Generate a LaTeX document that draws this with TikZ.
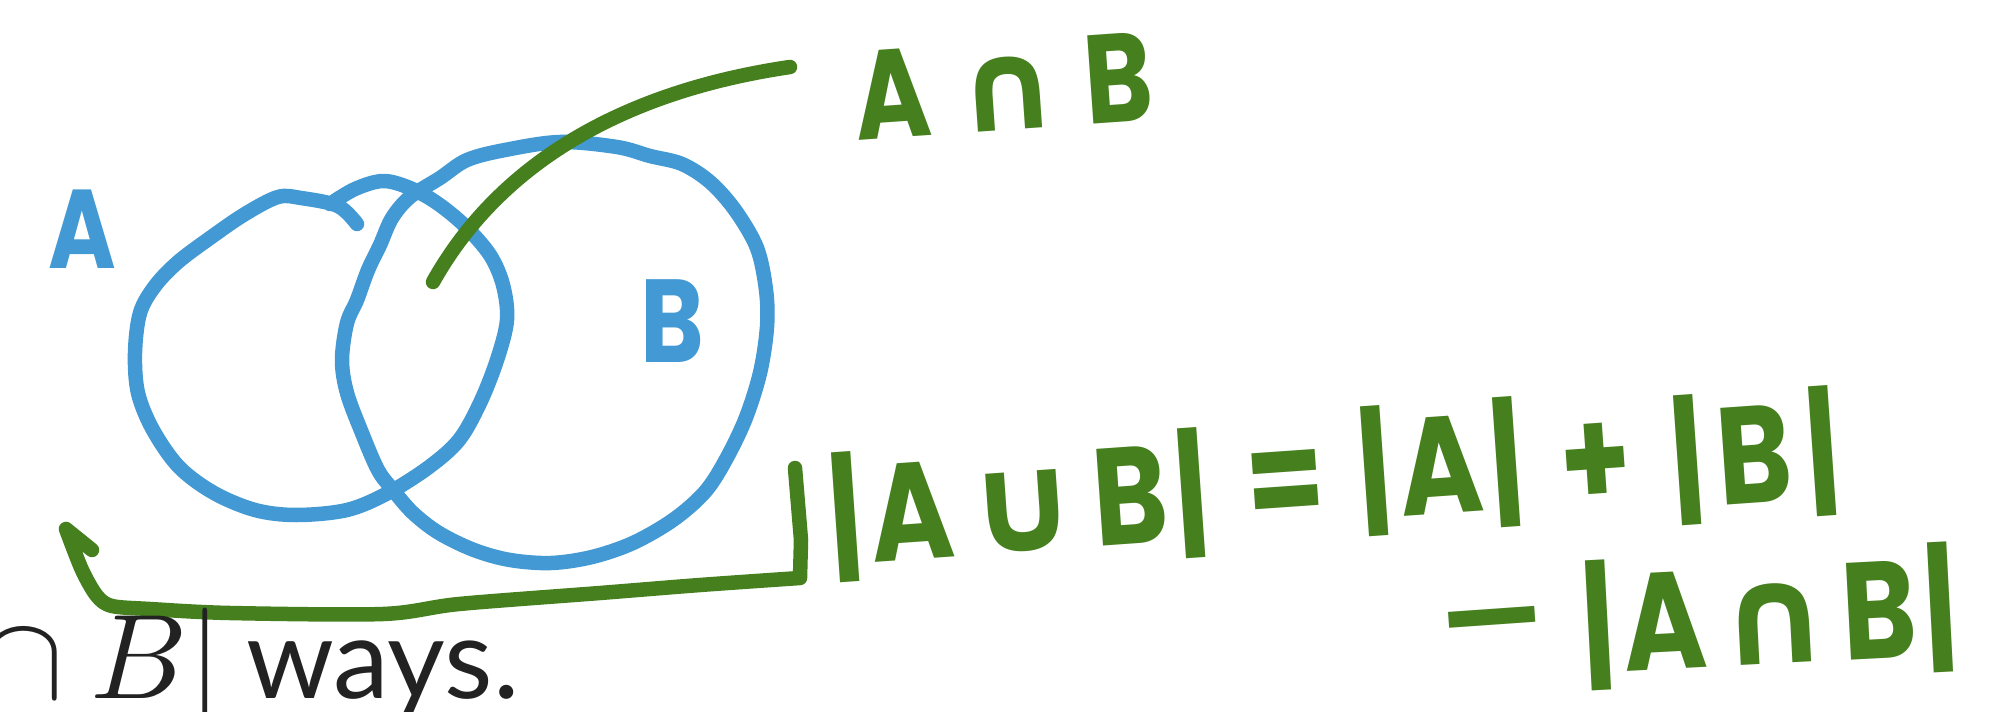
\documentclass[tikz,border=0pt]{standalone}
\usepackage{graphicx}
\usepackage{fontspec}
\newfontfamily\handfont{Poppins}[FakeStretch=0.82]
\newfontfamily\symfont{DejaVu Sans}
\newfontfamily\prosefont{Lato}
\definecolor{venn}{RGB}{66,153,212}
\definecolor{ink}{RGB}{70,128,30}
\definecolor{prose}{RGB}{34,34,34}
\newcommand\gap[1]{\kern#1bp\relax}
\begin{document}
\begin{tikzpicture}[x=1bp,y=-1bp,
  pen/.style={line width=14.5bp, line cap=round, line join=round},
  bluepen/.style={pen, draw=venn},
  greenpen/.style={pen, draw=ink},
  bluetext/.style={inner sep=0pt, text=venn, font=\handfont\bfseries\fontsize{#1bp}{#1bp}\selectfont},
  greentext/.style={inner sep=0pt, text=ink, font=\handfont\bfseries\fontsize{#1bp}{#1bp}\selectfont},
  formula/.style={greentext=138, rotate=4}]
\useasboundingbox (0,0) rectangle (2005,712);
\clip (0,0) rectangle (2005,712);
\fill[white] (0,0) rectangle (2005,712);

% set A
\draw[bluepen] plot[smooth, tension=0.55] coordinates {
  (357,224) (338,206) (301,198) (278,197) (245,214) (210,238)
  (178,262) (155,286) (140,313) (135,353) (138,393) (153,430) (179,467)
  (214,493) (255,510) (296,515) (347,510) (388,493) (429,467) (459,440)
  (480,403) (497,360) (507,320) (503,285) (490,255) (465,226) (437,203)
  (410,188) (383,181) (355,189) (330,204)};

% set B
\draw[bluepen] plot[smooth cycle, tension=0.55] coordinates {
  (410,197) (392,218) (380,245) (368,270) (357,300) (347,323) (342,360)
  (347,393) (362,433) (378,470) (393,490) (413,513) (439,533) (474,550)
  (510,560) (551,563) (592,557) (633,543) (673,520) (704,493) (724,463)
  (745,420) (760,373) (767,327) (766,290) (757,248) (735,210) (710,182)
  (682,164) (650,156) (617,147) (560,142) (505,150) (467,160) (440,178)};

\node[bluetext=112] (labA) at (82,229) {A};
\node[bluetext=118] (labB) at (672,321) {B};

% pointer to the intersection
\node[greentext=126, rotate=4] (capLabel) at (1003,86) {A\gap{26}{\symfont\bfseries ∩}\gap{26}B};
\coordinate (capStart) at (433,282);
\coordinate (capEnd) at (790,67);
\draw[greenpen] (capStart) .. controls (490,180) and (600,95) .. (capEnd);

% bracket under the union
\coordinate (brTip) at (92,550);
\coordinate (brTop) at (66,529);
\coordinate (brEnd) at (795,468);
\draw[greenpen] (brTip) -- (brTop) -- plot[smooth, tension=0.5] coordinates {
  (66,529) (82,570) (97,596) (112,606) (150,609) (230,613) (383,614)
  (459,604) (600,593) (700,585) (800,578)}
  -- (801,540) -- (brEnd);

% inclusion-exclusion
\node[formula, anchor=base] (lhs) at (1022,552) {|\gap{8}A\gap{14}{\symfont\bfseries ∪}\gap{14}B\gap{8}|};
\node[formula] (eq) at (1286,490) {=};
\node[formula, anchor=base] (absA) at (1444,514) {|\gap{8}A\gap{8}|};
\node[formula] (plus) at (1596,465) {+};
\node[formula, anchor=base] (absB) at (1758,503) {|\gap{14}B\gap{14}|};
\node[formula] (minus) at (1493,635) {{\symfont\bfseries −}};
\node[formula, rotate=-1, anchor=base] (absAB) at (1772,664) {|\gap{8}A\gap{12}{\symfont\bfseries ∩}\gap{12}B\gap{8}|};

% running text
\node[inner sep=0pt, anchor=base east, text=prose] (mathTail) at (222,698) {\scalebox{12.1}{${}\cap B|$}};
\node[inner sep=0pt, anchor=base west, text=prose, font=\prosefont\fontsize{112bp}{112bp}\selectfont] (ways) at (246,698) {ways.};
\end{tikzpicture}
\end{document}
